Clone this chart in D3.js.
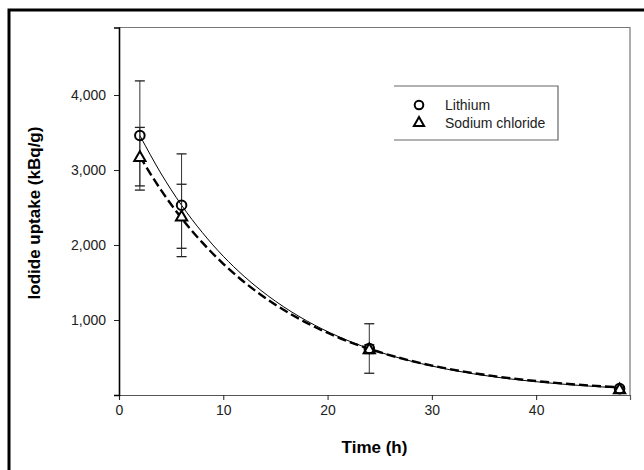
<!DOCTYPE html>
<html>
<head>
<meta charset="utf-8">
<script src="https://cdn.jsdelivr.net/npm/d3@7/dist/d3.min.js"></script>
<style>
  body { margin: 0; background: #fff; }
  text { font-family: Arial, "Liberation Sans", sans-serif; }
</style>
</head>
<body>
<div id="root"></div>
<script>
// measured points (time in h, uptake in kBq/g)
var times = [2, 6, 24, 48]
var lithium = [3460, 2530, 620, 85]
var lithiumErr = [728, 685, 330, 20]
var sodium = [3178, 2383, 612, 80]
var sodiumErr = [390, 427, 60, 20]

// fitted curves
var fitTimes = [2, 4, 6, 8, 10, 12, 15, 18, 21, 24, 28, 32, 36, 40, 44, 48]
var lithiumFit = [3460, 2960, 2530, 2165, 1850, 1582, 1251, 989, 782, 618, 452, 330, 241, 177, 129, 94]
var sodiumFit = [3180, 2738, 2358, 2031, 1749, 1506, 1204, 962, 769, 615, 456, 338, 251, 186, 138, 102]

var xTicks = [0, 10, 20, 30, 40]
var yTicks = [1000, 2000, 3000, 4000]
var legendLabels = ['Lithium', 'Sodium chloride']

window.onload = function () {
    var width = 644, height = 470
    var svg = d3.select('#root').append('svg')
        .attr('width', width)
        .attr('height', height)

    // outer frame (only top/left visible)
    svg.append('rect')
        .attr('x', 9).attr('y', 10)
        .attr('width', 700).attr('height', 520)
        .attr('fill', 'none')
        .attr('stroke', '#000')
        .attr('stroke-width', 3)

    var pLeft = 119, pRight = 630, pTop = 27.5, pBottom = 395
    var X = d3.scaleLinear().domain([0, 49]).range([pLeft, pRight])
    var Y = d3.scaleLinear().domain([0, 4900]).range([pBottom, pTop])

    // plot frame top and right
    svg.append('path')
        .attr('d', 'M' + pLeft + ',' + pTop + 'H' + pRight + 'V' + pBottom)
        .attr('fill', 'none')
        .attr('stroke', '#777')
        .attr('stroke-width', 1.2)

    // axes
    var xAxis = svg.append('g')
        .attr('transform', 'translate(0,' + pBottom + ')')
        .call(d3.axisBottom(X).tickValues(xTicks).tickSize(5).tickPadding(5).tickFormat(d3.format('d')))
    xAxis.select('.domain').attr('stroke', '#555').attr('stroke-width', 1.2)
    xAxis.selectAll('line').attr('stroke', '#222')
    xAxis.selectAll('text').attr('font-size', 14).attr('fill', '#222')
        .style('font-family', 'Arial, "Liberation Sans", sans-serif')

    var yAxis = svg.append('g')
        .attr('transform', 'translate(' + pLeft + ',0)')
        .call(d3.axisLeft(Y).tickValues(yTicks).tickSize(5).tickPadding(8).tickFormat(d3.format(',')))
    yAxis.select('.domain').attr('stroke', '#000').attr('stroke-width', 1.6)
    yAxis.selectAll('line').attr('stroke', '#222')
    yAxis.selectAll('text').attr('font-size', 14).attr('fill', '#222')
        .style('font-family', 'Arial, "Liberation Sans", sans-serif')

    // axis titles
    svg.append('text')
        .attr('x', (pLeft + pRight) / 2).attr('y', 453)
        .attr('text-anchor', 'middle')
        .attr('font-size', 17).attr('font-weight', 'bold')
        .text('Time (h)')
    svg.append('text')
        .attr('transform', 'translate(40,213) rotate(-90)')
        .attr('text-anchor', 'middle')
        .attr('font-size', 17).attr('font-weight', 'bold')
        .text('Iodide uptake (kBq/g)')

    // fitted curves
    var line = d3.line()
        .x(function (d) { return X(d[0]) })
        .y(function (d) { return Y(d[1]) })
        .curve(d3.curveMonotoneX)
    svg.append('path')
        .datum(fitTimes.map(function (t, i) { return [t, sodiumFit[i]] }))
        .attr('d', line)
        .attr('fill', 'none')
        .attr('stroke', '#000')
        .attr('stroke-width', 2.4)
        .attr('stroke-dasharray', '9,4')
    svg.append('path')
        .datum(fitTimes.map(function (t, i) { return [t, lithiumFit[i]] }))
        .attr('d', line)
        .attr('fill', 'none')
        .attr('stroke', '#000')
        .attr('stroke-width', 1)

    // error bars
    function errorBars(vals, errs, cap) {
        var g = svg.append('g')
        times.forEach(function (t, i) {
            var x = X(t), y1 = Y(vals[i] + errs[i]), y2 = Y(vals[i] - errs[i])
            g.append('line').attr('x1', x).attr('x2', x).attr('y1', y1).attr('y2', y2)
                .attr('stroke', '#333').attr('stroke-width', 1)
            ;[y1, y2].forEach(function (y) {
                g.append('line').attr('x1', x - cap).attr('x2', x + cap).attr('y1', y).attr('y2', y)
                    .attr('stroke', '#222').attr('stroke-width', 1.3)
            })
        })
    }
    errorBars(lithium, lithiumErr, 5)
    errorBars(sodium, sodiumErr, 5)

    // markers
    var tri = d3.symbol().type(d3.symbolTriangle).size(55)
    svg.append('g').selectAll('path')
        .data(times.map(function (t, i) { return [t, sodium[i]] }))
        .enter().append('path')
        .attr('transform', function (d) { return 'translate(' + X(d[0]) + ',' + (Y(d[1]) + 1) + ')' })
        .attr('d', tri)
        .attr('fill', '#fff').attr('stroke', '#000').attr('stroke-width', 2)
    svg.append('g').selectAll('circle')
        .data(times.map(function (t, i) { return [t, lithium[i]] }))
        .enter().append('circle')
        .attr('cx', function (d) { return X(d[0]) })
        .attr('cy', function (d) { return Y(d[1]) })
        .attr('r', 4.8)
        .attr('fill', 'none').attr('stroke', '#000').attr('stroke-width', 2)

    // legend
    var lg = svg.append('g')
    lg.append('path')
        .attr('d', 'M394,86H558V140H394')
        .attr('fill', 'none').attr('stroke', '#666').attr('stroke-width', 1.2)
    lg.append('circle').attr('cx', 419).attr('cy', 105).attr('r', 4.3)
        .attr('fill', 'none').attr('stroke', '#000').attr('stroke-width', 2)
    lg.append('path').attr('transform', 'translate(419,123)').attr('d', d3.symbol().type(d3.symbolTriangle).size(45))
        .attr('fill', '#fff').attr('stroke', '#000').attr('stroke-width', 2)
    lg.selectAll('text.lbl')
        .data(legendLabels)
        .enter().append('text')
        .attr('class', 'lbl')
        .attr('x', 445)
        .attr('y', function (d, i) { return 110 + i * 18 })
        .attr('font-size', 14).attr('fill', '#222')
        .text(function (d) { return d })
}
</script>
</body>
</html>
